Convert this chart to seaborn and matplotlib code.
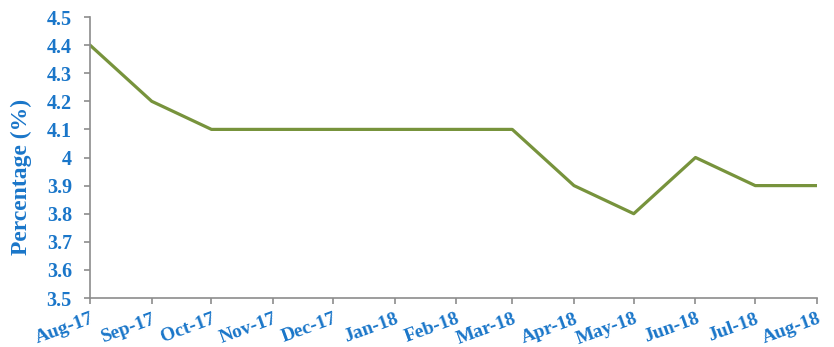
import matplotlib
matplotlib.use("Agg")
import matplotlib.pyplot as plt
import pandas as pd
import seaborn as sns

months = ["Aug-17", "Sep-17", "Oct-17", "Nov-17", "Dec-17", "Jan-18", "Feb-18",
          "Mar-18", "Apr-18", "May-18", "Jun-18", "Jul-18", "Aug-18"]
rates = [4.4, 4.2, 4.1, 4.1, 4.1, 4.1, 4.1, 4.1, 3.9, 3.8, 4.0, 3.9, 3.9]
y_ticks = [3.5, 3.6, 3.7, 3.8, 3.9, 4.0, 4.1, 4.2, 4.3, 4.4, 4.5]
y_labels = ["3.5", "3.6", "3.7", "3.8", "3.9", "4", "4.1", "4.2", "4.3", "4.4", "4.5"]

df = pd.DataFrame({"month": pd.to_datetime(months, format="%b-%y"), "rate": rates})

sns.set_style("white")
plt.rcParams["font.family"] = "serif"
plt.rcParams["font.serif"] = ["Liberation Serif", "DejaVu Serif"]

blue = "#1a76c9"
axis_grey = "#8c8c8c"

fig = plt.figure(figsize=(8.34, 3.47), dpi=100)
ax = fig.add_axes([0.1079, 0.1412, 0.8717, 0.8098])

sns.lineplot(data=df, x="month", y="rate", ax=ax, color="#77933c", linewidth=2.3)

ax.set_xlim(df["month"].iloc[0], df["month"].iloc[-1])
ax.set_ylim(3.5, 4.5)
ax.set_xticks(df["month"])
ax.set_xticklabels(months, rotation=20, ha="right", rotation_mode="anchor")
ax.set_yticks(y_ticks)
ax.set_yticklabels(y_labels)

for lbl in ax.get_xticklabels():
    lbl.set_color(blue)
    lbl.set_fontweight("bold")
    lbl.set_fontsize(14)
for lbl in ax.get_yticklabels():
    lbl.set_color(blue)
    lbl.set_fontweight("bold")
    lbl.set_fontsize(14.5)

ax.set_xlabel("")
ax.set_ylabel("Percentage (%)", color=blue, fontweight="bold", fontsize=17)
ax.yaxis.set_label_coords(-0.08, 0.43)

for side in ("top", "right"):
    ax.spines[side].set_visible(False)
for side in ("left", "bottom"):
    ax.spines[side].set_color(axis_grey)
    ax.spines[side].set_linewidth(1.2)

ax.tick_params(axis="both", which="major", direction="out", length=4, width=1.2,
               color=axis_grey, left=True, bottom=True)
ax.tick_params(axis="y", pad=9)
ax.tick_params(axis="x", pad=5)

fig.savefig("out.png", dpi=100, facecolor="white")
